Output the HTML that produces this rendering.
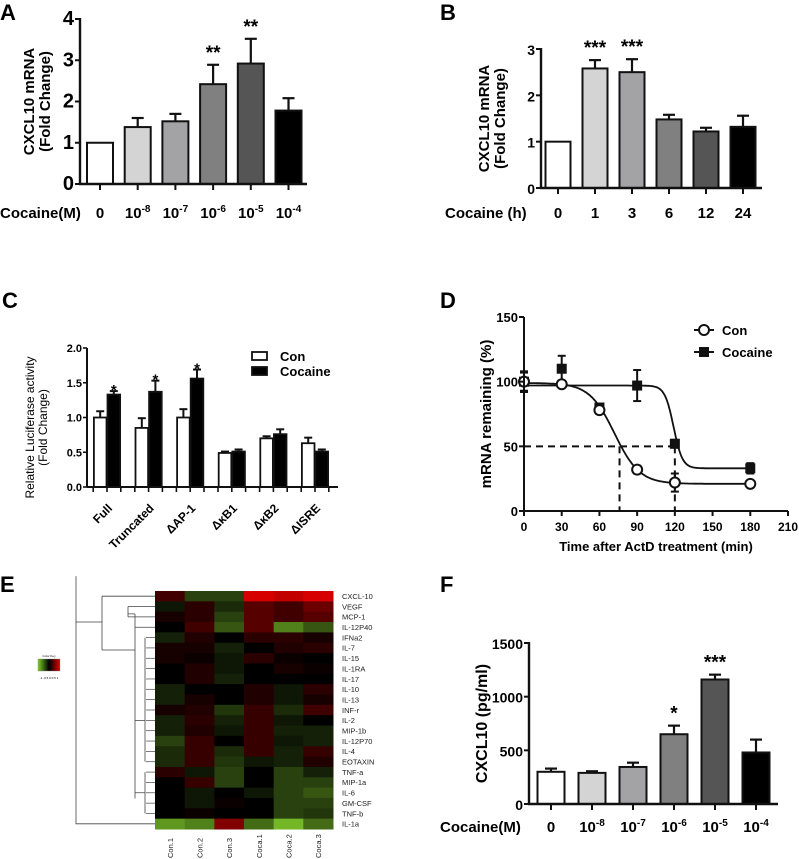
<!DOCTYPE html>
<html><head><meta charset="utf-8"><style>
body{margin:0;background:#fff}
svg{display:block;font-family:"Liberation Sans",Arial,sans-serif}
</style></head><body>
<svg id="fig" width="799" height="859" viewBox="0 0 799 859">
<g font-weight="bold" font-size="22">
<text x="0" y="20">A</text>
<text x="440" y="20">B</text>
<text x="2" y="308">C</text>
<text x="440" y="308">D</text>
<text x="0" y="592">E</text>
<text x="440" y="592">F</text>
</g>
</svg>
<script>
const NS="http://www.w3.org/2000/svg";
const svg=document.getElementById('fig');
function mk(tag,attrs,parent,text){const e=document.createElementNS(NS,tag);for(const k in attrs)e.setAttribute(k,attrs[k]);if(text!==undefined)e.textContent=text;(parent||svg).appendChild(e);return e;}

// ---- Panel A data ----
const aCats=["0","10|-8","10|-7","10|-6","10|-5","10|-4"];
const aVals=[1,1.38,1.52,2.42,2.92,1.78];
const aErrs=[0,0.22,0.18,0.47,0.6,0.3];
const aStars=["","","","**","**",""];
const aTicks=[0,1,2,3,4];
// ---- Panel B data ----
const bCats=["0","1","3","6","12","24"];
const bVals=[1,2.58,2.5,1.48,1.22,1.32];
const bErrs=[0,0.18,0.28,0.1,0.08,0.24];
const bStars=["","***","***","","",""];
const bTicks=[0,1,2,3];
// ---- Panel F data ----
const fCats=["0","10|-8","10|-7","10|-6","10|-5","10|-4"];
const fVals=[300,290,345,650,1160,480];
const fErrs=[30,15,40,80,45,120];
const fStars=["","","","*","***",""];
const fTicks=[0,500,1000,1500];
const barFills=["#ffffff","#d4d4d4","#a3a3a5","#808080","#555555","#000000"];

function barPanel(o){
  const g=mk('g',{});
  
  
  const y=v=>o.y0-(v-o.min)/(o.max-o.min)*(o.y0-o.yTop);
  const xs=o.cats.map((c,i)=>o.x0+o.first+i*o.step);
  o.vals.forEach((v,i)=>{
    const cx=xs[i];
    if(o.errs[i]>0){
      mk('line',{x1:cx,x2:cx,y1:y(v),y2:y(v+o.errs[i]),stroke:'#111','stroke-width':2.2},g);
      mk('line',{x1:cx-6,x2:cx+6,y1:y(v+o.errs[i]),y2:y(v+o.errs[i]),stroke:'#111','stroke-width':2.2},g);
    }
    const r=mk('rect',{x:cx-o.bw/2,y:y(v),width:o.bw,height:o.y0-y(v),fill:barFills[i],stroke:'#111','stroke-width':2},g);
    
    
    if(o.stars[i]){const s=mk('text',{x:cx,y:y(v+o.errs[i])-6,'text-anchor':'middle','font-size':19,'font-weight':'bold'},g,o.stars[i]);
      
      }
    mk('line',{x1:cx,x2:cx,y1:o.y0,y2:o.y0+6,stroke:'#111','stroke-width':2},g);
    const parts=o.cats[i].split('|');
    const t=mk('text',{x:cx,y:o.labelY,'text-anchor':'middle','font-size':15,'font-weight':'bold'},g);
    
    
    mk('tspan',{},t,parts[0]);
    if(parts[1])mk('tspan',{dy:-6,'font-size':10},t,parts[1]);
  });
  mk('line',{x1:o.x0,x2:o.x0,y1:o.yTop-1,y2:o.y0+1,stroke:'#111','stroke-width':2.4},g);
  mk('line',{x1:o.x0-1,x2:o.xEnd,y1:o.y0,y2:o.y0,stroke:'#111','stroke-width':2.4},g);
  o.ticks.forEach(t=>{
    mk('line',{x1:o.x0-5,x2:o.x0,y1:y(t),y2:y(t),stroke:'#111','stroke-width':2},g);
    const tl=mk('text',{x:o.x0-6,y:y(t)+6,'text-anchor':'end','font-size':o.tickFs,'font-weight':'bold'},g,t);
    
    
  });
  const yl=mk('text',{transform:`translate(${o.ylx},${(o.y0+o.yTop)/2}) rotate(-90)`,'text-anchor':'middle','font-size':o.ylfs,'font-weight':'bold'},g);
  
  
  o.ylab.forEach((s,i)=>mk('tspan',{x:0,dy:i?o.ylfs+1:0},yl,s));
  const xl=mk('text',{x:o.xlx,y:o.labelY,'font-size':15,'font-weight':'bold'},g,o.xlab);
  
  
}
barPanel({name:'panel-a-chart',cats:aCats,vals:aVals,errs:aErrs,stars:aStars,ticks:aTicks,min:0,max:4,x0:80,y0:184,yTop:19,first:20,step:37.7,bw:26,xEnd:307,labelY:218,tickFs:20,ylab:["CXCL10 mRNA","(Fold Change)"],ylx:34,ylfs:15,xlab:"Cocaine(M)",xlx:0});
barPanel({name:'panel-b-chart',cats:bCats,vals:bVals,errs:bErrs,stars:bStars,ticks:bTicks,min:0,max:3,x0:541,y0:188,yTop:49,first:17,step:37,bw:25,xEnd:762,labelY:218,tickFs:14,ylab:["CXCL10 mRNA","(Fold Change)"],ylx:489,ylfs:15,xlab:"Cocaine (h)",xlx:445});
barPanel({name:'panel-f-chart',cats:fCats,vals:fVals,errs:fErrs,stars:fStars,ticks:fTicks,min:0,max:1500,x0:529,y0:804,yTop:643,first:22,step:41,bw:27,xEnd:778,labelY:832,tickFs:14,ylab:["CXCL10 (pg/ml)"],ylx:487,ylfs:16,xlab:"Cocaine(M)",xlx:440});

// ---- Panel C data ----
const cCats=["Full","Truncated","ΔAP-1","ΔκB1","ΔκB2","ΔISRE"];
const cCon=[1.0,0.85,1.0,0.49,0.7,0.63];
const cConErr=[0.09,0.14,0.12,0.02,0.03,0.08];
const cCoc=[1.33,1.37,1.56,0.51,0.76,0.51];
const cCocErr=[0.05,0.16,0.13,0.03,0.07,0.03];
const cStars=["*","*","*","","",""];
const cTicks=[0,0.5,1.0,1.5,2.0];
(function(){
  const g=mk('g',{});
  
  
  const x0=87,y0=487,yT=348,y=v=>y0-v/2*(y0-yT);
  cCats.forEach((c,i)=>{
    const gx=x0+20+i*41.6;
    [[cCon,cConErr,'#fff',gx-6.8],[cCoc,cCocErr,'#000',gx+6.8]].forEach(([vals,errs,fill,cx],k)=>{
      const v=vals[i],e=errs[i];
      mk('line',{x1:cx,x2:cx,y1:y(v),y2:y(v+e),stroke:'#111','stroke-width':2},g);
      mk('line',{x1:cx-4,x2:cx+4,y1:y(v+e),y2:y(v+e),stroke:'#111','stroke-width':2},g);
      const r=mk('rect',{x:cx-6.3,y:y(v),width:12.6,height:y0-y(v),fill:fill,stroke:'#111','stroke-width':1.8},g);
      
      
      if(k===1&&cStars[i]){const s=mk('text',{x:cx,y:y(v+e)+4,'text-anchor':'middle','font-size':15,'font-weight':'bold'},g,cStars[i]);
        
        }
    });
    [gx-13.8,gx,gx+13.8].forEach(tx=>mk('line',{x1:tx,x2:tx,y1:y0,y2:y0+5,stroke:'#111','stroke-width':1.6},g));
    const t=mk('text',{transform:`translate(${gx+6},${y0+22}) rotate(-45)`,'text-anchor':'end','font-size':12,'font-weight':'bold'},g,c);
    
    
  });
  mk('line',{x1:x0,x2:x0,y1:yT,y2:y0,stroke:'#111','stroke-width':2},g);
  mk('line',{x1:x0,x2:338,y1:y0,y2:y0,stroke:'#111','stroke-width':2},g);
  cTicks.forEach(t=>{mk('line',{x1:x0-4,x2:x0,y1:y(t),y2:y(t),stroke:'#111','stroke-width':1.6},g);
    const tl=mk('text',{x:x0-5,y:y(t)+4,'text-anchor':'end','font-size':11,'font-weight':'bold'},g,t.toFixed(1));
    
    });
  const yl=mk('text',{transform:`translate(34,${(y0+yT)/2+10}) rotate(-90)`,'text-anchor':'middle','font-size':12},g);
  
  
  mk('tspan',{x:0,dy:0},yl,'Relative Luciferase activity');mk('tspan',{x:0,dy:13},yl,'(Fold Change)');
  [['Con','#fff',356],['Cocaine','#000',371]].forEach(([n,f,ly])=>{
    const lg=mk('g',{},g);
    
    
    mk('rect',{x:252,y:ly-4,width:15,height:8,fill:f,stroke:'#111','stroke-width':1.8},lg);
    mk('text',{x:280,y:ly+5,'font-size':13,'font-weight':'bold'},lg,n);
  });
})();

// ---- Panel D data ----
const dTimes=[0,30,60,90,120,180];
const dCon=[100,98,78,32,22,21];
const dConErr=[8,2,3,3,7,1];
const dCoc=[100,110,80,97,52,33];
const dCocErr=[7,10,2,12,3,4];
const dConFit=[99,21,72,10];
const dCocFit=[97,33,119,3.5];
const dXTicks=[0,30,60,90,120,150,180,210];
const dYTicks=[0,50,100,150];
const dHalf=[76,120];
(function(){
  const g=mk('g',{});
  
  
  const x0=524,y0=511,xr=788,yT=317;
  const X=t=>x0+t/210*(xr-x0), Y=v=>y0-v/150*(y0-yT);
  const fit=(p,t)=>p[1]+(p[0]-p[1])/(1+Math.exp((t-p[2])/p[3]));
  const dl=mk('path',{d:`M${X(0)},${Y(50)}H${X(dHalf[1])}M${X(dHalf[0])},${Y(50)}V${y0}M${X(dHalf[1])},${Y(50)}V${y0}`,fill:'none',stroke:'#111','stroke-width':2,'stroke-dasharray':'7,5'},g);
  
  
  [[dConFit,'con'],[dCocFit,'cocaine']].forEach(([p,n])=>{
    let d='';for(let t=0;t<=180;t+=1)d+=(t?'L':'M')+X(t).toFixed(1)+','+Y(fit(p,t)).toFixed(1);
    const pth=mk('path',{d:d,fill:'none',stroke:'#111','stroke-width':1.8},g);
    
    
  });
  dTimes.forEach((t,i)=>{
    [[dCoc,dCocErr,'sq'],[dCon,dConErr,'ci']].forEach(([v,e,m])=>{
      const cx=X(t),cy=Y(v[i]);
      mk('line',{x1:cx,x2:cx,y1:Y(v[i]-e[i]),y2:Y(v[i]+e[i]),stroke:'#111','stroke-width':2},g);
      mk('line',{x1:cx-4,x2:cx+4,y1:Y(v[i]+e[i]),y2:Y(v[i]+e[i]),stroke:'#111','stroke-width':2},g);
      mk('line',{x1:cx-4,x2:cx+4,y1:Y(v[i]-e[i]),y2:Y(v[i]-e[i]),stroke:'#111','stroke-width':2},g);
      const pt=m==='sq'?mk('rect',{x:cx-5,y:cy-5,width:10,height:10,fill:'#111'},g):mk('circle',{cx:cx,cy:cy,r:5,fill:'#fff',stroke:'#111','stroke-width':2},g);
      
      
    });
  });
  mk('line',{x1:x0,x2:x0,y1:yT,y2:y0,stroke:'#111','stroke-width':2},g);
  mk('line',{x1:x0,x2:xr,y1:y0,y2:y0,stroke:'#111','stroke-width':2},g);
  dXTicks.forEach(t=>{mk('line',{x1:X(t),x2:X(t),y1:y0,y2:y0+5,stroke:'#111','stroke-width':2},g);
    const tl=mk('text',{x:X(t),y:y0+20,'text-anchor':'middle','font-size':12,'font-weight':'bold'},g,t);
    
    });
  dYTicks.forEach(t=>{mk('line',{x1:x0-5,x2:x0,y1:Y(t),y2:Y(t),stroke:'#111','stroke-width':2},g);
    const tl=mk('text',{x:x0-6,y:Y(t)+5,'text-anchor':'end','font-size':13,'font-weight':'bold'},g,t);
    
    });
  const yl=mk('text',{transform:`translate(491,${(y0+yT)/2}) rotate(-90)`,'text-anchor':'middle','font-size':15,'font-weight':'bold'},g,'mRNA remaining (%)');
  
  
  const xl=mk('text',{x:X(105),y:551,'text-anchor':'middle','font-size':13,'font-weight':'bold'},g,'Time after ActD treatment (min)');
  
  
  [['Con',330,'ci'],['Cocaine',352,'sq']].forEach(([n,ly,m])=>{
    const lg=mk('g',{},g);
    
    
    mk('line',{x1:694,x2:714,y1:ly,y2:ly,stroke:'#111','stroke-width':2},lg);
    if(m==='ci')mk('circle',{cx:704,cy:ly,r:5,fill:'#fff',stroke:'#111','stroke-width':2},lg);
    else mk('rect',{x:699,y:ly-5,width:10,height:10,fill:'#111'},lg);
    mk('text',{x:722,y:ly+5,'font-size':13,'font-weight':'bold'},lg,n);
  });
})();

// ---- Panel E data ----
const eRows=["CXCL-10","VEGF","MCP-1","IL-12P40","IFNa2","IL-7","IL-15","IL-1RA","IL-17","IL-10","IL-13","INF-r","IL-2","MIP-1b","IL-12P70","IL-4","EOTAXIN","TNF-a","MIP-1a","IL-6","GM-CSF","TNF-b","IL-1a"];
const eCols=["Con.1","Con.2","Con.3","Coca.1","Coca.2","Coca.3"];
const eVals=[
[0.3,-0.3,-0.3,1,0.9,1],[-0.1,0.2,-0.2,0.4,0.3,0.5],[0.1,0.2,-0.3,0.4,0.3,0.4],[0,0.3,-0.4,0.4,-0.6,-0.4],
[-0.15,0.15,0,0.2,0.2,0.1],[0.1,0.1,-0.15,0,0.15,0.2],[0.1,0.05,-0.1,0.2,0.05,0],[0,0.15,-0.1,0,0.1,0.05],
[0,0.15,-0.15,0,0,0],[-0.15,0,0,0.15,-0.1,0.2],[-0.15,0.1,0,0.15,-0.1,0.1],[0.1,0.15,-0.25,0.25,-0.2,0.3],
[-0.15,0.2,-0.15,0.25,-0.1,0],[-0.15,0.15,-0.1,0.25,-0.15,-0.15],[-0.3,0.25,0,0.25,-0.1,-0.15],[-0.2,0.25,-0.2,0.25,-0.15,0.25],
[-0.2,0.25,-0.25,-0.1,-0.15,0.15],[0.2,-0.1,-0.3,0,-0.3,-0.15],[0,0.25,-0.3,0,-0.3,-0.3],[0,-0.1,0,-0.1,-0.3,-0.4],
[0,-0.1,0.05,0,-0.3,-0.3],[0,0.05,0,0,-0.3,-0.25],[-0.7,-0.6,0.6,-0.5,-0.85,-0.5]];
(function(){
  const g=mk('g',{});
  
  
  const hx=155,hy=591,cw=(333-155)/6,rh=(829-591)/23;
  const col=v=>v>=0?`rgb(${Math.round(215*v)},0,0)`:`rgb(${Math.round(-135*v)},${Math.round(-215*v)},${Math.round(-45*v)})`;
  eVals.forEach((row,r)=>{row.forEach((v,c)=>{
    const cell=mk('rect',{x:hx+c*cw,y:hy+r*rh,width:cw+0.5,height:rh+0.5,fill:col(v)},g);
    
    });
    const t=mk('text',{x:342,y:hy+r*rh+rh/2+2.8,'font-size':7.5,fill:'#222'},g,eRows[r]);
    
    
  });
  eCols.forEach((c,i)=>{const t=mk('text',{transform:`translate(${hx+i*cw+cw/2+3},${858}) rotate(-90)`,'font-size':7.5,fill:'#222'},g,c);
    
    });
  const rc=r=>hy+r*rh+rh/2;
  const d=`M76,${rc(0)-20}V${rc(22)}H155 M76,${622}H102 M102,${rc(0)}V${650}M102,${rc(0)}H155 M102,650H135 M135,${rc(2)-3}V${rc(3)+3} M135,${rc(3)}H155 M128,${rc(1)}V${rc(2)}M128,${rc(1)}H155M128,${rc(2)}H155 M135,${rc(2)-3}H128 M135,${rc(3)+3}V${rc(21)-15} M135,${rc(12)}H145 M145,${rc(4)}V${rc(16)} M145,${rc(17)}V${rc(21)} M135,${rc(19)}H145`;
  const dend=mk('path',{d:d,fill:'none',stroke:'#444','stroke-width':0.8},g);
  
  
  for(let r=4;r<22;r++)mk('line',{x1:146,x2:155,y1:rc(r),y2:rc(r),stroke:'#444','stroke-width':0.7},g);
  const key=mk('g',{},g);
  
  
  const gr=mk('linearGradient',{id:'kg'},svg);
  [['0%','rgb(120,210,40)'],['50%','#000'],['100%','rgb(220,0,0)']].forEach(([o,c])=>mk('stop',{offset:o,'stop-color':c},gr));
  mk('rect',{x:38,y:659,width:22,height:12,fill:'url(#kg)',stroke:'#888','stroke-width':0.4},key);
  mk('text',{x:49,y:657,'font-size':3,'text-anchor':'middle'},key,'Color Key');
  mk('text',{x:49,y:679,'font-size':3,'text-anchor':'middle'},key,'-1  -0.5  0  0.5  1');
})();
</script>
</body></html>
